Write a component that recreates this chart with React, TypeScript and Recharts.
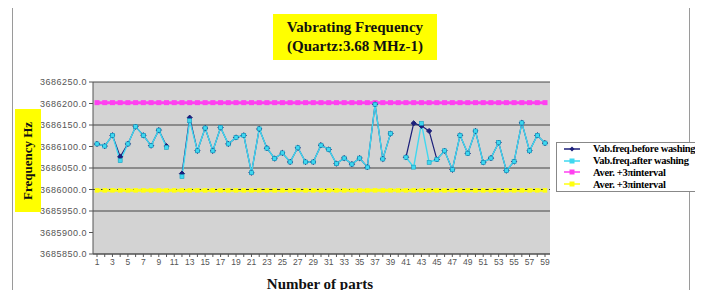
import React from "react";
import { LineChart, Line, XAxis, YAxis, CartesianGrid, ReferenceLine } from "recharts";

// numbers of the parts measured
const parts = [
  1, 2, 3, 4, 5, 6, 7, 8, 9, 10, 11, 12, 13, 14, 15, 16, 17, 18, 19, 20,
  21, 22, 23, 24, 25, 26, 27, 28, 29, 30, 31, 32, 33, 34, 35, 36, 37, 38, 39, 40,
  41, 42, 43, 44, 45, 46, 47, 48, 49, 50, 51, 52, 53, 54, 55, 56, 57, 58, 59,
];

// frequency before washing (Hz), null = no measurement
const beforeWashing = [
  3686106, 3686101, 3686126, 3686076, 3686106, 3686146, 3686126, 3686102, 3686138, 3686101,
  null, 3686037, 3686167, 3686090, 3686143, 3686090, 3686144, 3686106, 3686121, 3686126,
  3686039, 3686141, 3686096, 3686072, 3686085, 3686064, 3686097, 3686064, 3686064, 3686103,
  3686093, 3686060, 3686073, 3686059, 3686073, 3686052, 3686198, 3686071, 3686130, null,
  3686075, 3686154, 3686148, 3686136, 3686070, 3686090, 3686046, 3686126, 3686084, 3686136,
  3686063, 3686073, 3686109, 3686044, 3686065, 3686155, 3686090, 3686126, 3686108,
];

// frequency after washing (Hz)
const afterWashing = [
  3686106, 3686101, 3686126, 3686067, 3686106, 3686146, 3686126, 3686102, 3686138, 3686098,
  null, 3686030, 3686160, 3686090, 3686143, 3686090, 3686144, 3686106, 3686121, 3686126,
  3686039, 3686141, 3686096, 3686072, 3686085, 3686064, 3686097, 3686064, 3686064, 3686103,
  3686093, 3686060, 3686073, 3686059, 3686073, 3686052, 3686198, 3686071, 3686130, null,
  3686075, 3686052, 3686154, 3686063, 3686070, 3686090, 3686046, 3686126, 3686084, 3686136,
  3686063, 3686073, 3686109, 3686044, 3686065, 3686155, 3686090, 3686126, 3686108,
];

// control limits (average +/- 3 sigma)
const upperLimit = 3686202;
const lowerLimit = 3685998;

const yTicks = [3685850, 3685900, 3685950, 3686000, 3686050, 3686100, 3686150, 3686200, 3686250];

const data = parts.map((p, i) => ({
  part: p,
  before: beforeWashing[i],
  after: afterWashing[i],
  upper: upperLimit,
  lower: lowerLimit,
}));

const NAVY = "#1c1f7a";
const CYAN = "#3fd8f0";
const MAGENTA = "#ff40f0";
const YELLOW = "#ffff10";

const serif = "'Liberation Serif', 'Times New Roman', 'DejaVu Serif', serif";
const sans = "Arial, 'Liberation Sans', sans-serif";

const diamond = (color: string, s: number) => (props: any) => {
  const { cx, cy, index } = props;
  if (cx == null || cy == null) return <g key={`d-${index}`} />;
  return (
    <path
      key={`d-${index}`}
      d={`M${cx},${cy - s} L${cx + s},${cy} L${cx},${cy + s} L${cx - s},${cy} Z`}
      fill={color}
      stroke={color}
    />
  );
};

const square = (color: string, s: number, stroke?: string) => (props: any) => {
  const { cx, cy, index } = props;
  if (cx == null || cy == null) return <g key={`s-${index}`} />;
  return (
    <rect
      key={`s-${index}`}
      x={cx - s / 2}
      y={cy - s / 2}
      width={s}
      height={s}
      fill={color}
      stroke={stroke || "none"}
      strokeWidth={0.6}
    />
  );
};

const legendItems = [
  { label: "Vab.freq.before washing", color: NAVY, kind: "diamond" },
  { label: "Vab.freq.after washing", color: CYAN, kind: "square" },
  { label: "Aver. +3\u03c0interval", color: MAGENTA, kind: "square" },
  { label: "Aver. +3\u03c0interval", color: YELLOW, kind: "square" },
];

const LegendBox = () => (
  <div
    style={{
      position: "absolute",
      left: 556,
      top: 142,
      width: 160,
      height: 50,
      border: "1px solid #888",
      background: "#fff",
      padding: "0 0 0 7px",
      boxSizing: "border-box",
    }}
  >
    {legendItems.map((it, i) => (
      <div key={i} style={{ display: "flex", alignItems: "center", height: 11.8 }}>
        <svg width={16} height={8} style={{ marginRight: 13, flex: "none" }}>
          <line x1={0} y1={4} x2={16} y2={4} stroke={it.color} strokeWidth={1.5} />
          {it.kind === "diamond" ? (
            <path d="M8,1.5 L10.5,4 L8,6.5 L5.5,4 Z" fill={it.color} />
          ) : (
            <rect x={5.5} y={1.5} width={5} height={5} fill={it.color} />
          )}
        </svg>
        <span
          style={{
            fontFamily: serif,
            fontWeight: "bold",
            fontSize: 10.5,
            color: "#000",
            whiteSpace: "nowrap",
            letterSpacing: -0.3,
          }}
        >
          {it.label}
        </span>
      </div>
    ))}
  </div>
);

export default function App() {
  return (
    <div style={{ position: "relative", width: 703, height: 298, margin: -8, background: "#fff", overflow: "hidden" }}>
      {/* outer frame */}
      <div
        style={{
          position: "absolute",
          left: 12,
          top: 5,
          width: 676,
          height: 300,
          border: "1px solid #9a9a9a",
        }}
      />
      <div style={{ position: "absolute", left: 0, top: 0 }}>
        <LineChart width={703} height={298} data={data} margin={{ top: 82, right: 153, bottom: 14, left: 33 }}>
          <CartesianGrid vertical={false} fill="#d3d3d3" stroke="#2a2a2a" strokeOpacity={0.85} />
          <XAxis
            dataKey="part"
            interval={0}
            tickFormatter={(v: number) => (v % 2 === 1 ? String(v) : "")}
            padding={{ left: 4, right: 5 }}
            tickSize={3}
            height={30}
            stroke="#555"
            tick={{ fontFamily: sans, fontSize: 8.5, fill: "#555" }}
          />
          <YAxis
            domain={[3685850, 3686250]}
            ticks={yTicks}
            tickFormatter={(v: number) => v.toFixed(1)}
            width={60}
            tickSize={4}
            stroke="#555"
            tick={{ fontFamily: sans, fontSize: 9, fill: "#555", letterSpacing: 0.5 }}
            allowDataOverflow
          />
          <Line
            dataKey="upper"
            name="Aver. +3\u03c0interval"
            stroke={MAGENTA}
            strokeWidth={3}
            dot={square(MAGENTA, 5)}
            isAnimationActive={false}
          />
          <Line
            dataKey="lower"
            name="Aver. +3\u03c0interval"
            stroke={YELLOW}
            strokeWidth={3}
            dot={square(YELLOW, 4.5)}
            isAnimationActive={false}
          />
          <ReferenceLine y={3686000} stroke="#333" strokeDasharray="4 4" strokeWidth={1} />
          <Line
            dataKey="before"
            name="Vab.freq.before washing"
            stroke={NAVY}
            strokeWidth={1.2}
            dot={diamond(NAVY, 2.6)}
            connectNulls={false}
            isAnimationActive={false}
          />
          <Line
            dataKey="after"
            name="Vab.freq.after washing"
            stroke={CYAN}
            strokeWidth={1.4}
            dot={square(CYAN, 4, "#1aa0c0")}
            connectNulls={false}
            isAnimationActive={false}
          />
        </LineChart>
      </div>
      {/* title */}
      <div
        style={{
          position: "absolute",
          left: 273,
          top: 14,
          width: 164,
          height: 46,
          background: "#ffff00",
          fontFamily: serif,
          fontWeight: "bold",
          fontSize: 15,
          lineHeight: "19px",
          textAlign: "center",
          paddingTop: 4,
          boxSizing: "border-box",
          color: "#111",
        }}
      >
        Vabrating Frequency
        <br />
        (Quartz:3.68 MHz-1)
      </div>
      {/* y axis title */}
      <div
        style={{
          position: "absolute",
          left: 15,
          top: 109,
          width: 26,
          height: 103,
          background: "#ffff00",
          display: "flex",
          alignItems: "center",
          justifyContent: "center",
        }}
      >
        <div
          style={{
            transform: "rotate(-90deg)",
            whiteSpace: "nowrap",
            fontFamily: serif,
            fontWeight: "bold",
            fontSize: 13,
            color: "#111",
          }}
        >
          Frequency Hz
        </div>
      </div>
      {/* x axis title */}
      <div
        style={{
          position: "absolute",
          left: 220,
          top: 276,
          width: 200,
          textAlign: "center",
          fontFamily: serif,
          fontWeight: "bold",
          fontSize: 15,
          lineHeight: "17px",
          color: "#111",
        }}
      >
        Number of parts
      </div>
      <LegendBox />
    </div>
  );
}
